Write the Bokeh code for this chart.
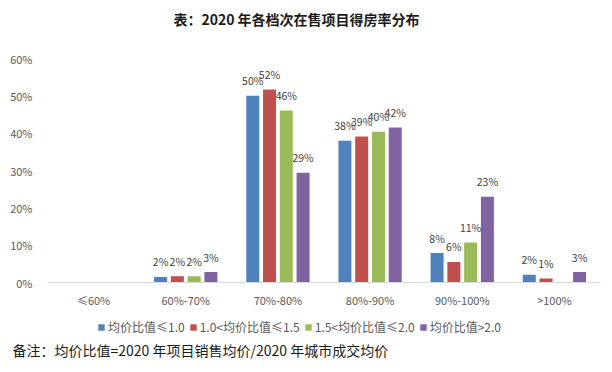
from bokeh.plotting import figure
from bokeh.layouts import column
from bokeh.models import (ColumnDataSource, Range1d, FactorRange, FixedTicker, PrintfTickFormatter,
                          LabelSet, Label, Legend, LegendItem, Title)
from bokeh.transform import dodge
from bokeh.embed import file_html
from bokeh.resources import INLINE
from bokeh.core.properties import value

# ---- data ----
categories = ["≤60%", "60%-70%", "70%-80%", "80%-90%", "90%-100%", ">100%"]
series_names = ["均价比值≤1.0", "1.0<均价比值≤1.5", "1.5<均价比值≤2.0", "均价比值>2.0"]
s1 = [0, 1.5, 50.0, 38.0, 7.9, 2.1]
s2 = [0, 1.7, 51.7, 39.1, 5.5, 1.1]
s3 = [0, 1.7, 46.1, 40.4, 10.7, 0]
s4 = [0, 2.8, 29.4, 41.5, 23.0, 2.8]
y_ticks = [0, 10, 20, 30, 40, 50, 60]
colors = ["#4F81BD", "#C0504D", "#9BBB59", "#8064A2"]
title_text = "表：2020 年各档次在售项目得房率分布"
note_text = "备注：均价比值=2020 年项目销售均价/2020 年城市成交均价"

FONT = "Noto Sans CJK SC"
W = 604
L, R = 47, 4          # frame borders shared by all stacked figures
series = [s1, s2, s3, s4]


def blank_fig(h):
    f = figure(width=W, height=h, x_range=Range1d(L, W - R), y_range=Range1d(0, h),
               output_backend="svg", toolbar_location=None,
               x_axis_location=None, y_axis_location=None,
               min_border_left=L, min_border_right=R, min_border_top=0, min_border_bottom=0)
    f.outline_line_color = None
    f.grid.visible = False
    return f


# ---- title strip ----
TOP_H = 40
top = blank_fig(TOP_H)
top.add_layout(Label(x=296, y=TOP_H - 18, text=title_text, text_align="center", text_baseline="middle",
                     text_font=FONT, text_font_size="14px", text_font_style="bold",
                     text_color="#1a1a1a"))

# ---- main chart ----
p = figure(width=W, height=272, x_range=FactorRange(*categories, range_padding=0),
           y_range=Range1d(0, 60), output_backend="svg", toolbar_location=None,
           min_border_left=L, min_border_right=R, min_border_top=18, min_border_bottom=30)
p.outline_line_color = None
p.grid.visible = False

offsets = [-0.273, -0.091, 0.091, 0.273]
for vals, name, col, off in zip(series, series_names, colors, offsets):
    src = ColumnDataSource(dict(cat=categories, v=vals))
    p.vbar(x=dodge("cat", off, range=p.x_range), top="v", width=0.141, source=src,
           fill_color=col, line_color=None)
    lab = [(c, v, f"{int(v + 0.5)}%") for c, v in zip(categories, vals) if v > 0]
    lsrc = ColumnDataSource(dict(cat=[a[0] for a in lab], v=[a[1] for a in lab], t=[a[2] for a in lab]))
    p.add_layout(LabelSet(x=dodge("cat", off, range=p.x_range), y="v", text="t", source=lsrc,
                          text_align="center", text_baseline="middle", y_offset=15,
                          text_font=value(FONT), text_font_size="10.5px", text_color="#404040"))

p.yaxis.ticker = FixedTicker(ticks=y_ticks)
p.yaxis.formatter = PrintfTickFormatter(format="%d%%")
p.yaxis.axis_line_color = None
p.yaxis.major_tick_line_color = None
p.yaxis.minor_tick_line_color = None
p.yaxis.major_label_standoff = 9
p.yaxis.major_label_text_font = FONT
p.yaxis.major_label_text_font_size = "11px"
p.yaxis.major_label_text_color = "#595959"

p.xaxis.axis_line_color = "#D9D9D9"
p.xaxis.major_tick_line_color = None
p.xaxis.minor_tick_line_color = None
p.xaxis.major_label_standoff = 3
p.xaxis.major_label_text_font = FONT
p.xaxis.major_label_text_font_size = "11px"
p.xaxis.major_label_text_color = "#595959"

# ---- legend + note strip ----
BOT_H = 47
bot = blank_fig(BOT_H)
items = []
for name, col in zip(series_names, colors):
    # one off-screen point so the legend swatch has a styled index to draw
    r = bot.vbar(x=[-1000], top=[0], width=1, fill_color=col, line_color=None)
    items.append(LegendItem(label=name, renderers=[r], index=0))
legend = Legend(items=items, orientation="horizontal", location=(97 - L, 2),
                glyph_width=8, glyph_height=8, label_standoff=3, spacing=4,
                padding=0, margin=0, border_line_color=None, background_fill_alpha=0,
                label_text_font=FONT, label_text_font_size="12px", label_text_color="#595959",
                label_height=12)
bot.add_layout(legend, "center")
note = Title(text=note_text, align="left", offset=12 - L, standoff=0,
             text_font=FONT, text_font_size="14px", text_font_style="normal", text_color="#1a1a1a")
bot.add_layout(note, "below")

layout = column(top, p, bot, spacing=0)
open("out.html", "w").write(file_html(layout, INLINE))
